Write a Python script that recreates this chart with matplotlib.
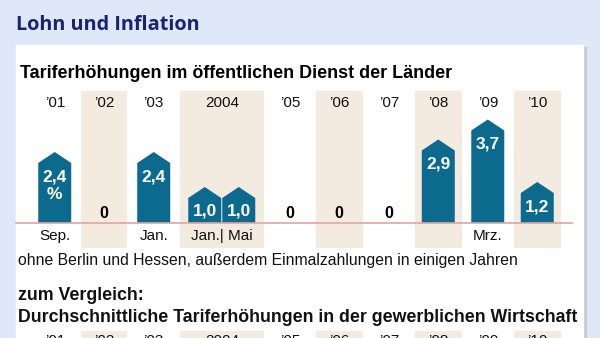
import matplotlib
matplotlib.use("Agg")
import matplotlib.pyplot as plt
from matplotlib.patches import Rectangle, Polygon

# ---------------- data ----------------
title = "Lohn und Inflation"
subtitle = "Tariferhöhungen im öffentlichen Dienst der Länder"
years = ["’01", "’02", "’03", "2004", "’05", "’06", "’07", "’08", "’09", "’10"]
values = [[2.4], [0], [2.4], [1.0, 1.0], [0], [0], [0], [2.9], [3.7], [1.2]]
months = ["Sep.", "", "Jan.", "Jan.| Mai", "", "", "", "", "Mrz.", ""]
footnote = "ohne Berlin und Hessen, außerdem Einmalzahlungen in einigen Jahren"
compare_head = "zum Vergleich:"
compare_title = "Durchschnittliche Tariferhöhungen in der gewerblichen Wirtschaft"

# ---------------- layout / style ----------------
slot_widths = [1, 1, 1, 1.75, 1, 1, 1, 1, 1, 1]
shaded = [False, True, False, True, False, True, False, True, False, True]
BG = "#dfe8f9"
SHADE = "#f3ebe0"
BAR = "#0d6a8f"
BASE = "#e3a3a3"
NAVY = "#1b2272"
FONT = ["Liberation Sans", "DejaVu Sans"]

W, H = 600, 338
fig = plt.figure(figsize=(W / 100, H / 100), dpi=100)
fig.patch.set_facecolor(BG)

# background / decoration axes in pixel space
bg = fig.add_axes([0, 0, 1, 1])
bg.set_xlim(0, W)
bg.set_ylim(H, 0)
bg.axis("off")
bg.add_patch(Rectangle((583, 47), 3, H, color="#c5cad6", zorder=0))
bg.add_patch(Rectangle((16, 45), 567, H, color="white", zorder=1))

bg.text(16, 25, title, fontsize=14.3, fontweight="bold", color=NAVY,
        family=["Open Sans", "DejaVu Sans"], va="center", ha="left", zorder=5)
bg.text(20, 74, subtitle, fontsize=12.9, fontweight="bold", color="black",
        family=FONT, va="center", ha="left", zorder=5)
bg.text(18, 260, footnote, fontsize=11.3, color="#111111",
        family=FONT, va="center", ha="left", zorder=5)
bg.text(18, 296, compare_head, fontsize=12.8, fontweight="bold", color="#111111",
        family=FONT, va="center", ha="left", zorder=5)
bg.text(18, 318, compare_title, fontsize=12.8, fontweight="bold", color="#111111",
        family=FONT, va="center", ha="left", zorder=5)

# ---------------- bar chart axes ----------------
x0_px, x1_px = 30, 562
top_px, bot_px = 91, 248
base_px = 223
px_per_unit = 25.0
ymax = (base_px - top_px) / px_per_unit
ymin = (base_px - bot_px) / px_per_unit
total = sum(slot_widths)
unit_px = (x1_px - x0_px) / total

bx = fig.add_axes([x0_px / W, (H - bot_px) / H, (x1_px - x0_px) / W, (bot_px - top_px) / H])
bx.set_xlim(0, total)
bx.set_ylim(ymin, ymax)
bx.axis("off")
bx.patch.set_alpha(0)

starts = [sum(slot_widths[:i]) for i in range(len(slot_widths))]
centers = [s + w / 2 for s, w in zip(starts, slot_widths)]
inset = 0.03
label_y = (base_px - 103) / px_per_unit
month_y = (base_px - 236) / px_per_unit
zero_y = (base_px - 214) / px_per_unit
bar_w = 33 / unit_px
peak = 11 / px_per_unit

for i, (s, w) in enumerate(zip(starts, slot_widths)):
    if shaded[i]:
        bx.axvspan(s + inset, s + w - inset, color=SHADE, zorder=0, lw=0)
    bx.text(centers[i], label_y, years[i], ha="center", va="center",
            fontsize=11, family=FONT, color="#111111", zorder=5)
    if months[i]:
        bx.text(centers[i], month_y, months[i], ha="center", va="center",
                fontsize=11, family=FONT, color="#111111", zorder=5)
    vals = values[i]
    n = len(vals)
    gap = 1 / unit_px
    for j, v in enumerate(vals):
        cx = centers[i] + (j - (n - 1) / 2) * (bar_w + gap)
        if v == 0:
            bx.text(cx, zero_y, "0", ha="center", va="center", fontsize=11.5,
                    fontweight="bold", family=FONT, color="black", zorder=5)
            continue
        l, r = cx - bar_w / 2, cx + bar_w / 2
        poly = Polygon([(l, 0), (r, 0), (r, v), (cx, v + peak), (l, v)],
                       closed=True, facecolor=BAR, edgecolor="none", zorder=3)
        bx.add_patch(poly)
        bx.text(cx, v - 0.54, f"{v:.1f}".replace(".", ","), ha="center", va="center",
                fontsize=12.5, fontweight="bold", family=FONT, color="white", zorder=5)
        if i == 0:
            bx.text(cx, v - 1.26, "%", ha="center", va="center",
                    fontsize=12.5, fontweight="bold", family=FONT, color="white", zorder=5)

# baseline extending beyond the column area
bx.plot([-(x0_px - 16) / unit_px, total + (572 - x1_px) / unit_px], [0, 0],
        color=BASE, lw=1.2, zorder=4, clip_on=False)

# ---------------- second (cut-off) chart header ----------------
b2_top = 331
cx2 = fig.add_axes([x0_px / W, 0, (x1_px - x0_px) / W, (H - b2_top) / H])
cx2.set_xlim(0, total)
cx2.set_ylim(H, b2_top)
cx2.axis("off")
cx2.patch.set_alpha(0)
for i, (s, w) in enumerate(zip(starts, slot_widths)):
    if shaded[i]:
        cx2.axvspan(s + inset, s + w - inset, color=SHADE, zorder=0, lw=0)
    cx2.text(centers[i], 341, years[i], ha="center", va="center", fontsize=11,
             family=FONT, color="#111111", zorder=5, clip_on=False)

fig.savefig("out.png", dpi=100, facecolor=BG)
